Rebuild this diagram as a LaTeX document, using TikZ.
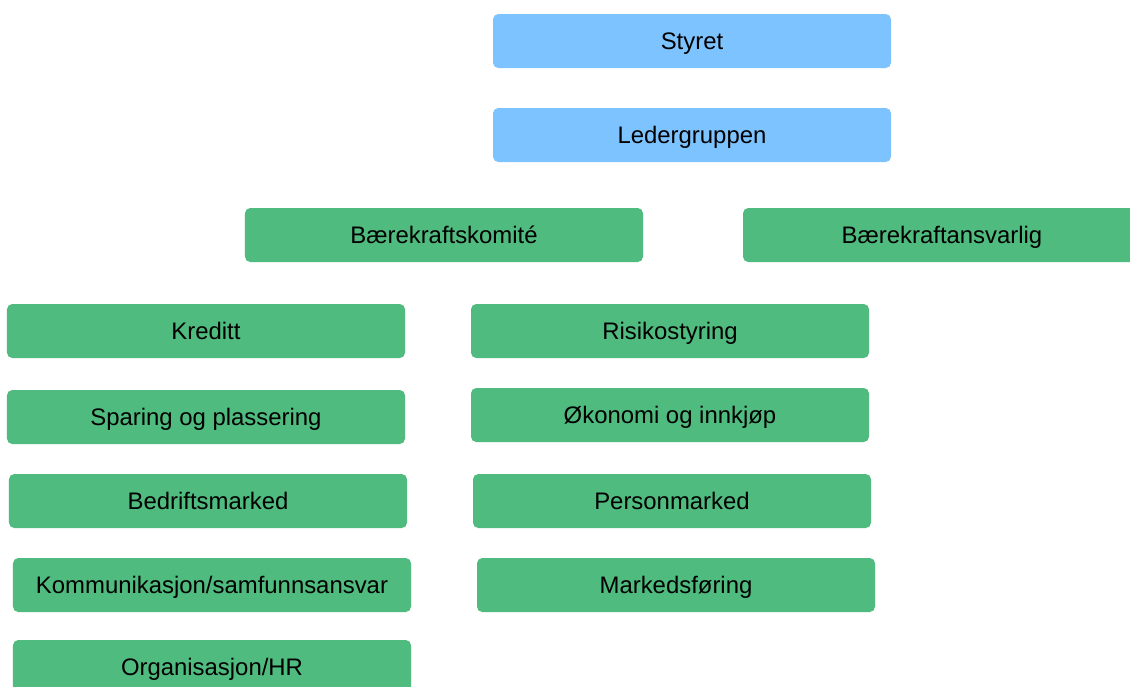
\documentclass[tikz,border=0pt]{standalone}
\usepackage{fontspec}
\setmainfont{Liberation Sans}
\definecolor{boardblue}{HTML}{7DC3FF}
\definecolor{unitgreen}{HTML}{4FBB7E}
\begin{document}
\begin{tikzpicture}[x=0.2mm, y=-0.2mm,
  unit/.style = {rounded corners = 3pt, minimum width = 7.96cm, minimum height = 1.08cm,
    inner sep = 0pt, text height = 10pt, text depth = 0pt,
    font = \fontsize{13.6}{16}\selectfont},
  board/.style = {unit, fill = boardblue},
  dept/.style = {unit, fill = unitgreen}]
\useasboundingbox (0,0) rectangle (1130,686);
\clip (0,0) rectangle (1130,686);

\node[board] (styret) at (692,41) {Styret};
\node[board] (ledergruppen) at (692,135) {Ledergruppen};

\node[dept] (komite) at (444,235) {Bærekraftskomité};
\node[dept] (ansvarlig) at (942,235) {Bærekraftansvarlig};

\node[dept] (kreditt) at (206,331) {Kreditt};
\node[dept] (sparing) at (206,417) {Sparing og plassering};
\node[dept] (bedrift) at (208,501) {Bedriftsmarked};
\node[dept] (kommunikasjon) at (212,585) {Kommunikasjon/samfunnsansvar};
\node[dept] (organisasjon) at (212,667) {Organisasjon/HR};

\node[dept] (risiko) at (670,331) {Risikostyring};
\node[dept] (okonomi) at (670,415) {Økonomi og innkjøp};
\node[dept] (person) at (672,501) {Personmarked};
\node[dept] (markedsforing) at (676,585) {Markedsføring};

\end{tikzpicture}
\end{document}
